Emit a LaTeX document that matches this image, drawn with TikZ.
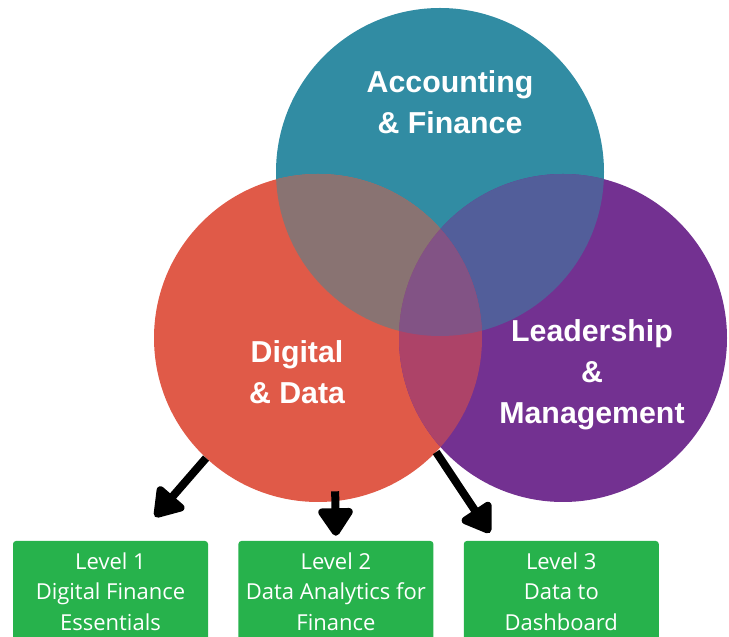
\documentclass[tikz,border=0pt]{standalone}
\usepackage{fontspec}
\usepackage{xcolor}
\usepackage{tikz}
\usetikzlibrary{arrows.meta}
\usetikzlibrary{positioning}
\newfontfamily\vennfont{Liberation Sans}
\newfontfamily\levelfont{Open Sans}
\definecolor{accteal}{HTML}{318CA3}
\definecolor{digred}{HTML}{E05A48}
\definecolor{leadpurple}{HTML}{733191}
\definecolor{mixad}{HTML}{897372}
\definecolor{mixal}{HTML}{525E9A}
\definecolor{mixdl}{HTML}{AD4368}
\definecolor{mixall}{HTML}{825385}
\definecolor{boxgreen}{HTML}{27B24C}
\tikzset{
    venn_circle/.style = {circle, inner sep=0pt, minimum size=328pt},
    venn_label/.style = {align=center, text=white, inner sep=0pt, font=\vennfont\bfseries\fontsize{30.3}{41}\selectfont},
    level_box/.style = {rectangle, rounded corners=3pt, fill=boxgreen, text=white, inner sep=0pt, minimum width=195pt, minimum height=101pt, align=center, font=\levelfont\fontsize{22}{30.5}\selectfont},
    level_arrow/.style = {-{Triangle[length=31pt, width=39pt, round]}, line width=8pt, black}
}

\begin{document}
\begin{tikzpicture}[x=1pt, y=1pt]
    \useasboundingbox (0,0) rectangle (729,637);

    % the three circles
    \node [venn_circle, fill=accteal] (acc) at (440,465) {};
    \node [venn_circle, fill=digred] (dig) at (318,299) {};
    \node [venn_circle, fill=leadpurple] (lead) at (563,299) {};

    % overlaps
    \begin{scope}
        \clip (acc.center) circle (164);
        \fill [mixad] (dig.center) circle (164);
        \fill [mixal] (lead.center) circle (164);
    \end{scope}
    \begin{scope}
        \clip (dig.center) circle (164);
        \fill [mixdl] (lead.center) circle (164);
        \clip (lead.center) circle (164);
        \fill [mixall] (acc.center) circle (164);
    \end{scope}

    \node [venn_label] (acc_text) at ([shift={(10,70)}]acc.center) {Accounting\\\& Finance};
    \node [venn_label] (dig_text) at ([shift={(-21,-34)}]dig.center) {Digital\\\& Data};
    \node [venn_label] (lead_text) at ([shift={(29,-37)}]lead.center) {Leadership\\\&\\Management};

    % levels
    \node [level_box] (lvl1) at (110.5,45.5) {Level 1\\Digital Finance\\Essentials};
    \node [level_box, right=30pt of lvl1] (lvl2) {Level 2\\Data Analytics for\\Finance};
    \node [level_box, right=30pt of lvl2] (lvl3) {Level 3\\Data to\\Dashboard};

    \coordinate (tip1) at ([shift={(44.5,24)}]lvl1.north);
    \coordinate (tip2) at ([yshift=5pt]lvl2.north);
    \coordinate (tip3) at ([shift={(-71.5,8)}]lvl3.north);

    \draw [level_arrow] (dig.227) -- (tip1);
    \draw [level_arrow] ([yshift=10pt]dig.-84) -- (tip2);
    \draw [level_arrow] (dig.-44) -- (tip3);
\end{tikzpicture}
\end{document}
